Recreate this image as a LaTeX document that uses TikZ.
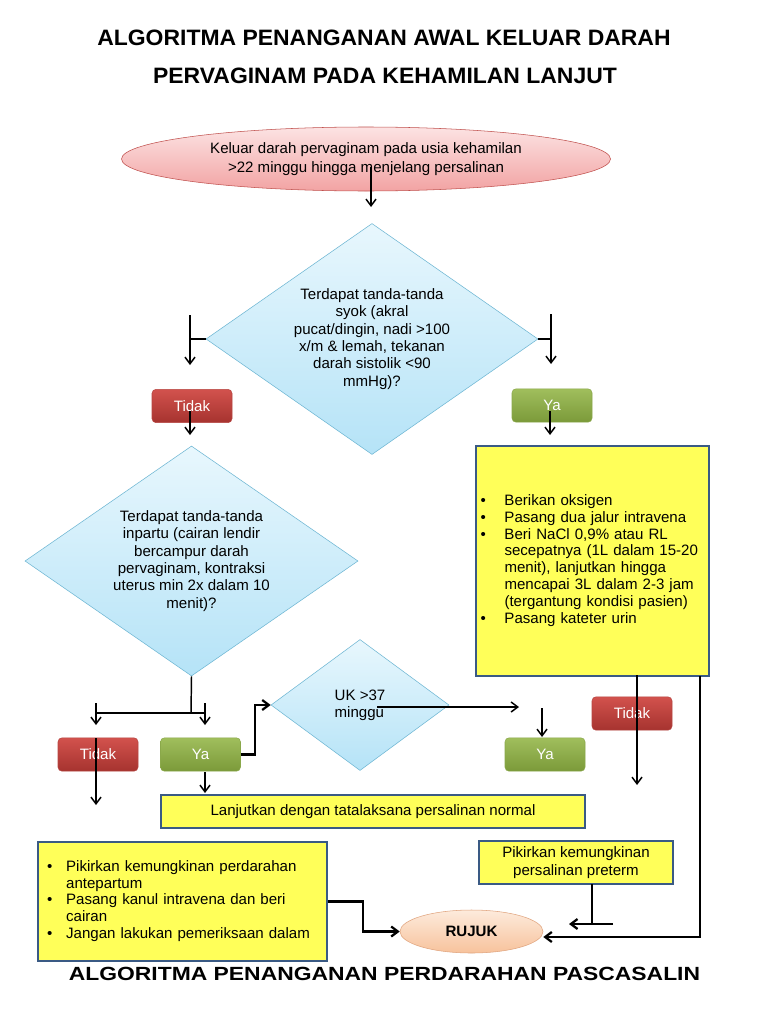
\documentclass[tikz,border=0pt]{standalone}
\usepackage{fontspec}
\setmainfont{Liberation Sans}
\usepackage{graphicx}
\usetikzlibrary{shapes.geometric,arrows.meta}

\definecolor{ovaltop}{HTML}{FCE3E3}
\definecolor{ovalbot}{HTML}{F2A3A3}
\definecolor{ovalline}{HTML}{C0504D}
\definecolor{qtop}{HTML}{E8F7FD}
\definecolor{qbot}{HTML}{B5E3F7}
\definecolor{qline}{HTML}{6DB6D3}
\definecolor{tidaktop}{HTML}{D2524D}
\definecolor{tidakbot}{HTML}{A6332F}
\definecolor{tidakline}{HTML}{B64541}
\definecolor{yatop}{HTML}{A0BE5C}
\definecolor{yabot}{HTML}{7B9A3A}
\definecolor{yaline}{HTML}{8AA84A}
\definecolor{noteyellow}{HTML}{FFFF59}
\definecolor{noteline}{HTML}{3A5A84}
\definecolor{rujuktop}{HTML}{FDEBDC}
\definecolor{rujukbot}{HTML}{F7C29C}
\definecolor{rujukline}{HTML}{E0A47E}

\newcommand{\judul}[1]{\scalebox{1.03}[1]{\fontsize{16.7}{18}\selectfont\bfseries #1}}
\newcommand{\judulbawah}[1]{\scalebox{1.2}[1]{\fontsize{14.3}{16}\selectfont\bfseries #1}}

\tikzset{
  oval/.style={ellipse, draw=ovalline, top color=ovaltop, bottom color=ovalbot, inner sep=0pt, align=center},
  rujukoval/.style={ellipse, draw=rujukline, top color=rujuktop, bottom color=rujukbot, inner sep=0pt},
  question/.style={diamond, draw=qline, top color=qtop, bottom color=qbot, inner sep=0pt, align=center, aspect=1.44},
  tidakbox/.style={rectangle, rounded corners=3pt, draw=tidakline, top color=tidaktop, bottom color=tidakbot, text=white, minimum width=60pt, minimum height=25pt},
  yabox/.style={rectangle, rounded corners=3pt, draw=yaline, top color=yatop, bottom color=yabot, text=white, minimum width=60pt, minimum height=25pt},
  notebox/.style={rectangle, draw=noteline, line width=1.5pt, fill=noteyellow, font=\fontsize{11.3}{12.6}\selectfont},
  link/.style={line width=1.1pt, -{Straight Barb[length=5pt,width=7.5pt]}},
  linkthick/.style={line width=1.7pt, -{Straight Barb[length=5pt,width=7.5pt]}},
  stub/.style={line width=2.2pt},
}

\begin{document}
\begin{tikzpicture}[x=0.75pt,y=-0.75pt,font=\fontsize{11.3}{13}\selectfont]
\fill[white] (0,0) rectangle (768,1024);
\useasboundingbox (0,0) rectangle (768,1024);

% Judul
\node (judul1) at (384,38) {\judul{ALGORITMA PENANGANAN AWAL KELUAR DARAH}};
\node (judul2) at (385,76) {\judul{PERVAGINAM PADA KEHAMILAN LANJUT}};
\node (judul3) at (384.5,974) {\judulbawah{ALGORITMA PENANGANAN PERDARAHAN PASCASALIN}};

% Kotak dan pertanyaan
\node (keluar) [oval, minimum width=366.75pt, minimum height=48pt, font=\fontsize{11.3}{14.4}\selectfont] at (366,159) {Keluar darah pervaginam pada usia kehamilan\\>22 minggu hingga menjelang persalinan};
\node (syok) [question, minimum width=249pt, minimum height=173.25pt] at (372,339) {Terdapat tanda-tanda\\syok (akral\\pucat/dingin, nadi >100\\x/m \& lemah, tekanan\\darah sistolik <90\\mmHg)?};
\node (tidak1) [tidakbox] at (192,406) {Tidak};
\node (ya1) [yabox] at (552,405.5) {Ya};
\node (tindakan) [notebox, minimum width=174.75pt, minimum height=172.5pt, inner xsep=3pt, text width=168pt, align=left] at (592.5,561) {\begin{tabular}{@{}p{18pt}@{}l@{}}
\textbullet & Berikan oksigen\\
\textbullet & Pasang dua jalur intravena\\
\textbullet & Beri NaCl 0,9\% atau RL\\
 & secepatnya (1L dalam 15-20\\
 & menit), lanjutkan hingga\\
 & mencapai 3L dalam 2-3 jam\\
 & (tergantung kondisi pasien)\\
\textbullet & Pasang kateter urin
\end{tabular}};
\node (inpartu) [question, minimum width=249.75pt, minimum height=172.5pt] at (191.5,561) {Terdapat tanda-tanda\\inpartu (cairan lendir\\bercampur darah\\pervaginam, kontraksi\\uterus min 2x dalam 10\\menit)?};
\node (uk) [question, minimum width=133.5pt, minimum height=98.25pt, align=left] at (360,705) {UK >37\\minggu};
\node (tidak2) [tidakbox] at (98,754.5) {Tidak};
\node (ya2) [yabox] at (200.5,754.5) {Ya};
\node (ya3) [yabox] at (545,754.5) {Ya};
\node (tidak3) [tidakbox] at (632,713.5) {Tidak};
\node (lanjut) [notebox, minimum width=318pt, minimum height=24.75pt] at (373,811.5) {Lanjutkan dengan tatalaksana persalinan normal};
\node (pikir) [notebox, minimum width=216.75pt, minimum height=89.25pt, inner xsep=6.75pt, text width=203pt, align=left] at (182.5,901.5) {\begin{tabular}{@{}p{14.25pt}@{}l@{}}
\textbullet & Pikirkan kemungkinan perdarahan\\
 & antepartum\\
\textbullet & Pasang kanul intravena dan beri\\
 & cairan\\
\textbullet & Jangan lakukan pemeriksaan dalam
\end{tabular}};
\node (preterm) [notebox, minimum width=145.5pt, minimum height=32.25pt, align=center, font=\fontsize{11.3}{13.5}\selectfont] at (576,862.5) {Pikirkan kemungkinan\\persalinan preterm};
\node (rujuk) [rujukoval, minimum width=107.25pt, minimum height=32.25pt] at (471.5,931.5) {\textbf{RUJUK}};

% Ujung konektor
\coordinate (a1) at (371,167); \coordinate (a2) at (371,207);
\coordinate (b1) at (190,339); \coordinate (b2) at (190,315); \coordinate (b3) at (190,365);
\coordinate (c1) at (551,339); \coordinate (c2) at (551,314); \coordinate (c3) at (551,364);
\coordinate (d1) at (190,411); \coordinate (d2) at (190,435);
\coordinate (e1) at (550,411); \coordinate (e2) at (550,435);
\coordinate (f1) at (191,713); \coordinate (f2) at (96,713); \coordinate (f3) at (205,713);
\coordinate (f4) at (96,703); \coordinate (f5) at (96,725);
\coordinate (f6) at (205,703); \coordinate (f7) at (205,725);
\coordinate (g1) at (96,738); \coordinate (g2) at (96,805);
\coordinate (h1) at (205,772); \coordinate (h2) at (205,793);
\coordinate (i1) at (255,754.5);
\coordinate (j1) at (377,707); \coordinate (j2) at (519,707);
\coordinate (m1) at (542,708); \coordinate (m2) at (542,737);
\coordinate (n1) at (637,675); \coordinate (n2) at (637,785);
\coordinate (p1) at (700,676); \coordinate (p2) at (700,937);
\coordinate (q1) at (363,901.5);
\coordinate (r1) at (592,884); \coordinate (r2) at (592,924);
\coordinate (r3) at (613,924); \coordinate (r4) at (569,924);

% Panah
\draw[link] (a1) -- (a2);
\draw[stub] (syok.west) -- (b1);
\draw[link] (b2) -- (b3);
\draw[stub] (syok.east) -- (c1);
\draw[link] (c2) -- (c3);
\draw[link] (d1) -- (d2);
\draw[link] (e1) -- (e2);
\draw[line width=1.1pt] (inpartu.south) -- (f1);
\draw[stub] (f2) -- (f3);
\draw[link] (f4) -- (f5);
\draw[link] (f6) -- (f7);
\draw[link] (g1) -- (g2);
\draw[link] (h1) -- (h2);
\draw[linkthick] (ya2.east) -- (i1) |- (uk.west);
\draw[link] (j1) -- (j2);
\draw[link] (m1) -- (m2);
\draw[link] (n1) -- (n2);
\draw[linkthick] (p1) -- (p2) -- (p2 -| rujuk.east);
\draw[linkthick] (pikir.east) -- (q1) |- (rujuk.west);
\draw[stub] (r1) -- (r2);
\draw[linkthick] (r3) -- (r4);

\end{tikzpicture}
\end{document}
